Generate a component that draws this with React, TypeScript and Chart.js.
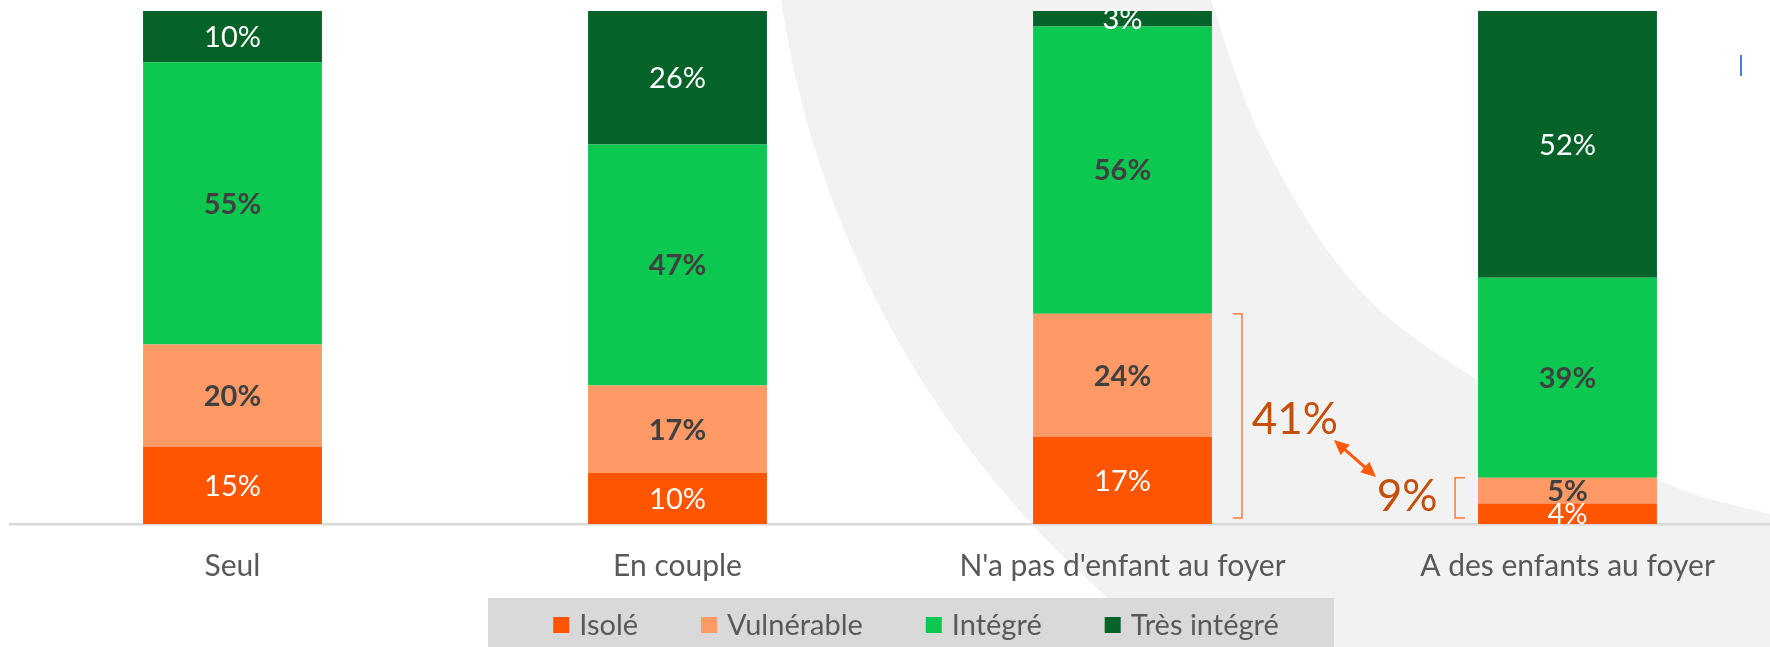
import React, { useEffect, useRef } from "react";
import { Chart, registerables } from "chart.js";

Chart.register(...registerables);

// ---------- Data ----------
const categories = ["Seul", "En couple", "N'a pas d'enfant au foyer", "A des enfants au foyer"];
const seriesNames = ["Isolé", "Vulnérable", "Intégré", "Très intégré"];
const isole = [15, 10, 17, 4];
const vulnerable = [20, 17, 24, 5];
const integre = [55, 47, 56, 39];
const tresIntegre = [10, 26, 3, 52];
const seriesValues = [isole, vulnerable, integre, tresIntegre];

// ---------- Styles ----------
const seriesColors = ["#FF5500", "#FF9966", "#0CC850", "#056329"];
const labelColors = ["#FFFFFF", "#404040", "#404040", "#FFFFFF"];
const labelBold = [false, true, true, false];
const FONT = "Lato, 'Open Sans', sans-serif";
const TEXT_GRAY = "#595959";
const ANNOT_COLOR = "#C5500C";
const ARROW_COLOR = "#FF5A0A";

const W = 1800;
const H = 647;

function smoothThrough(ctx: CanvasRenderingContext2D, pts: number[][], move: boolean) {
  if (move) ctx.moveTo(pts[0][0], pts[0][1]);
  else ctx.lineTo(pts[0][0], pts[0][1]);
  for (let i = 0; i < pts.length - 1; i++) {
    const p0 = pts[i - 1] || pts[i];
    const p1 = pts[i];
    const p2 = pts[i + 1];
    const p3 = pts[i + 2] || p2;
    ctx.bezierCurveTo(
      p1[0] + (p2[0] - p0[0]) / 6,
      p1[1] + (p2[1] - p0[1]) / 6,
      p2[0] - (p3[0] - p1[0]) / 6,
      p2[1] - (p3[1] - p1[1]) / 6,
      p2[0],
      p2[1]
    );
  }
}

const backgroundPlugin = {
  id: "bgShape",
  beforeDraw(chart: any) {
    const ctx = chart.ctx as CanvasRenderingContext2D;
    ctx.save();
    ctx.fillStyle = "#FFFFFF";
    ctx.fillRect(0, 0, chart.width, chart.height);
    const right = [
      [1211, 0], [1264, 143], [1356, 286], [1476, 379], [1656, 479], [1770, 514], [1800, 522],
    ];
    // left boundary: arc of a large circle
    const cx = 1752.6, cy = -142.8, r = 982;
    const aTop = Math.atan2(0 - cy, Math.sqrt(r * r - cy * cy) * -1);
    const yb = 647 - cy;
    const aBot = Math.atan2(yb, -Math.sqrt(r * r - yb * yb));
    ctx.beginPath();
    ctx.moveTo(cx - Math.sqrt(r * r - cy * cy), 0);
    smoothThrough(ctx, right, false);
    ctx.lineTo(1800, 647);
    ctx.lineTo(cx - Math.sqrt(r * r - yb * yb), 647);
    ctx.arc(cx, cy, r, aBot, aTop, false);
    ctx.closePath();
    ctx.fillStyle = "#F2F2F2";
    ctx.fill();
    // small cursor mark
    ctx.strokeStyle = "#3B7DED";
    ctx.lineWidth = 2;
    ctx.beginPath();
    ctx.moveTo(1741, 55);
    ctx.lineTo(1741, 76);
    ctx.stroke();
    ctx.restore();
  },
};

const dataLabelPlugin = {
  id: "dataLabels",
  afterDatasetsDraw(chart: any) {
    const ctx = chart.ctx as CanvasRenderingContext2D;
    ctx.save();
    ctx.textAlign = "center";
    ctx.textBaseline = "alphabetic";
    chart.data.datasets.forEach((ds: any, di: number) => {
      const meta = chart.getDatasetMeta(di);
      const size = 29;
      ctx.font = `${labelBold[di] ? "bold " : ""}${size}px ${FONT}`;
      ctx.fillStyle = labelColors[di];
      meta.data.forEach((el: any, i: number) => {
        const cyy = (el.y + el.base) / 2;
        ctx.fillText(`${ds.data[i]}%`, el.x, cyy + size * 0.36);
      });
    });
    ctx.restore();
  },
};

function arrowHead(ctx: CanvasRenderingContext2D, x: number, y: number, ang: number, len: number, wid: number) {
  ctx.beginPath();
  ctx.moveTo(x, y);
  ctx.lineTo(x - len * Math.cos(ang) + wid * Math.sin(ang), y - len * Math.sin(ang) - wid * Math.cos(ang));
  ctx.lineTo(x - len * Math.cos(ang) - wid * Math.sin(ang), y - len * Math.sin(ang) + wid * Math.cos(ang));
  ctx.closePath();
  ctx.fill();
}

const annotationPlugin = {
  id: "annotations",
  afterDraw(chart: any) {
    const ctx = chart.ctx as CanvasRenderingContext2D;
    const yScale = chart.scales.y;
    const m0 = chart.getDatasetMeta(0);
    const b3 = m0.data[2];
    const b4 = m0.data[3];
    const b3Right = b3.x + b3.width / 2;
    const b4Left = b4.x - b4.width / 2;
    const sum3 = isole[2] + vulnerable[2];
    const sum4 = isole[3] + vulnerable[3];
    const bottom = yScale.getPixelForValue(0) - 6;
    ctx.save();
    ctx.strokeStyle = "#FF7A33";
    ctx.lineWidth = 1.5;
    // bracket ] right of bar 3
    const t3 = yScale.getPixelForValue(sum3);
    ctx.beginPath();
    ctx.moveTo(b3Right + 21, t3);
    ctx.lineTo(b3Right + 30, t3);
    ctx.lineTo(b3Right + 30, bottom);
    ctx.lineTo(b3Right + 21, bottom);
    ctx.stroke();
    // bracket [ left of bar 4
    const t4 = yScale.getPixelForValue(sum4);
    ctx.beginPath();
    ctx.moveTo(b4Left - 13, t4);
    ctx.lineTo(b4Left - 23, t4);
    ctx.lineTo(b4Left - 23, bottom);
    ctx.lineTo(b4Left - 13, bottom);
    ctx.stroke();
    // texts
    ctx.fillStyle = ANNOT_COLOR;
    ctx.font = `44px ${FONT}`;
    ctx.textAlign = "center";
    ctx.textBaseline = "alphabetic";
    ctx.fillText(`${sum3}%`, b3Right + 83, 434);
    ctx.fillText(`${sum4}%`, b4Left - 71, 511);
    // double arrow
    const x1 = b3Right + 122, y1 = 440, x2 = b4Left - 102, y2 = 477;
    const ang = Math.atan2(y2 - y1, x2 - x1);
    ctx.strokeStyle = ARROW_COLOR;
    ctx.fillStyle = ARROW_COLOR;
    ctx.lineWidth = 3;
    ctx.beginPath();
    ctx.moveTo(x1 + 10 * Math.cos(ang), y1 + 10 * Math.sin(ang));
    ctx.lineTo(x2 - 10 * Math.cos(ang), y2 - 10 * Math.sin(ang));
    ctx.stroke();
    arrowHead(ctx, x2, y2, ang, 15, 7);
    arrowHead(ctx, x1, y1, ang + Math.PI, 15, 7);
    ctx.restore();
  },
};

const legendPlugin = {
  id: "customLegend",
  afterDraw(chart: any) {
    const ctx = chart.ctx as CanvasRenderingContext2D;
    ctx.save();
    ctx.fillStyle = "#D9D9D9";
    ctx.fillRect(488, 598, 846, 60);
    ctx.font = `29px ${FONT}`;
    const sq = 16, gapT = 10, gapI = 63;
    const items = chart.data.datasets.map((d: any) => ({ label: d.label, color: d.backgroundColor }));
    const widths = items.map((it: any) => ctx.measureText(it.label).width);
    let total = 0;
    widths.forEach((w: number) => (total += sq + gapT + w));
    total += gapI * (items.length - 1);
    let x = 916 - total / 2;
    ctx.textBaseline = "alphabetic";
    ctx.textAlign = "left";
    items.forEach((it: any, i: number) => {
      ctx.fillStyle = it.color;
      ctx.fillRect(x, 617, sq, sq);
      ctx.fillStyle = TEXT_GRAY;
      ctx.fillText(it.label, x + sq + gapT, 635);
      x += sq + gapT + widths[i] + gapI;
    });
    ctx.restore();
  },
};

export default function App() {
  const ref = useRef<HTMLCanvasElement | null>(null);
  useEffect(() => {
    document.body.style.overflow = "hidden";
    const canvas = ref.current;
    if (!canvas) return;
    const chart = new Chart(canvas, {
      type: "bar",
      data: {
        labels: categories,
        datasets: seriesNames.map((name, i) => ({
          label: name,
          data: seriesValues[i],
          backgroundColor: seriesColors[i],
          borderWidth: 0,
          categoryPercentage: 1,
          barPercentage: 0.402,
        })),
      },
      options: {
        responsive: false,
        animation: false,
        devicePixelRatio: 1,
        layout: { padding: { left: 10, right: 10, top: 11, bottom: 0 } },
        plugins: {
          legend: { display: false },
          tooltip: { enabled: false },
          title: { display: false },
        },
        scales: {
          x: {
            stacked: true,
            grid: { display: false, drawTicks: false },
            border: { display: true, color: "#D9D9D9", width: 2.5 },
            ticks: {
              color: TEXT_GRAY,
              font: { family: FONT, size: 30 },
              padding: 24,
              maxRotation: 0,
              autoSkip: false,
            },
            afterFit: (scale: any) => {
              scale.height = 123;
            },
          },
          y: {
            stacked: true,
            display: false,
            min: 0,
            max: 100,
          },
        },
      },
      plugins: [backgroundPlugin, dataLabelPlugin, annotationPlugin, legendPlugin],
    });
    return () => chart.destroy();
  }, []);
  return (
    <div style={{ position: "fixed", left: 0, top: 0, width: W, height: H }}>
      <canvas ref={ref} width={W} height={H} style={{ width: W, height: H }} />
    </div>
  );
}
